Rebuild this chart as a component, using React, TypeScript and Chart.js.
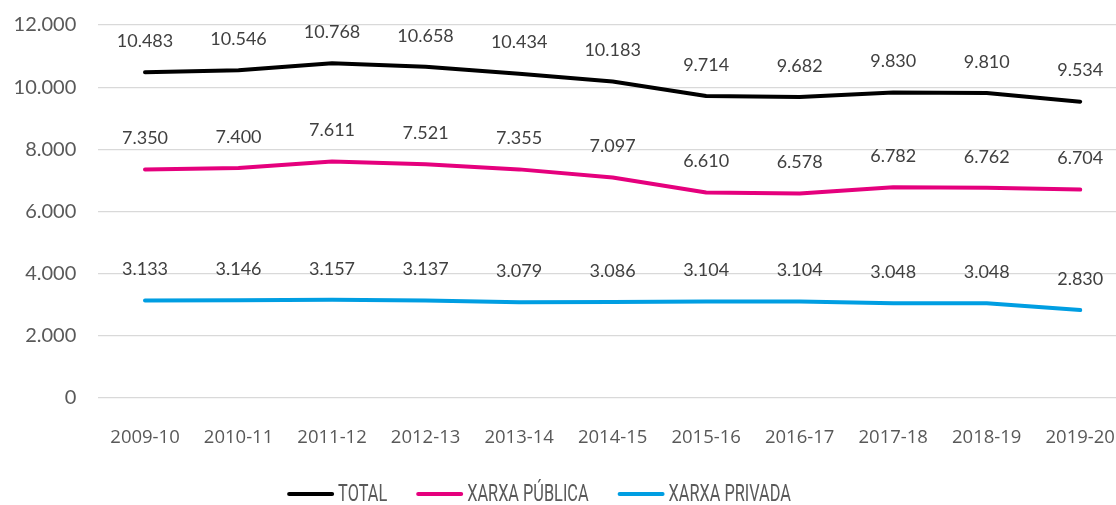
import React, { useEffect, useRef } from "react";
import { Chart, registerables } from "chart.js";

Chart.register(...registerables);

const categories = ["2009-10", "2010-11", "2011-12", "2012-13", "2013-14", "2014-15", "2015-16", "2016-17", "2017-18", "2018-19", "2019-20"];
const totalValues = [10483, 10546, 10768, 10658, 10434, 10183, 9714, 9682, 9830, 9810, 9534];
const publicValues = [7350, 7400, 7611, 7521, 7355, 7097, 6610, 6578, 6782, 6762, 6704];
const privateValues = [3133, 3146, 3157, 3137, 3079, 3086, 3104, 3104, 3048, 3048, 2830];
const seriesNames = ["TOTAL", "XARXA PÚBLICA", "XARXA PRIVADA"];
const seriesColors = ["#000000", "#E5007D", "#009EE2"];
const yMin = 0;
const yMax = 12000;
const yStep = 2000;

const fmt = (v: number) => Math.round(v).toString().replace(/\B(?=(\d{3})+(?!\d))/g, ".");

const dataLabelPlugin = {
  id: "dataLabels",
  afterDatasetsDraw(chart: any) {
    const ctx = chart.ctx;
    ctx.save();
    ctx.font = "18px Lato";
    ctx.fillStyle = "#404040";
    ctx.textAlign = "center";
    ctx.textBaseline = "middle";
    chart.data.datasets.forEach((ds: any, i: number) => {
      const meta = chart.getDatasetMeta(i);
      meta.data.forEach((pt: any, j: number) => {
        ctx.fillText(fmt(ds.data[j]), pt.x, pt.y - 31);
      });
    });
    ctx.restore();
  },
};

const legendPlugin = {
  id: "customLegend",
  afterDraw(chart: any) {
    const ctx = chart.ctx;
    const lineW = 47;
    const gapText = 4;
    const gapItem = 29;
    const sx = 0.68;
    const centerX = 539;
    const y = 494;
    ctx.save();
    ctx.font = "24px Roboto";
    ctx.textBaseline = "middle";
    ctx.textAlign = "left";
    const items = chart.data.datasets.map((ds: any) => ({
      label: ds.label,
      color: ds.borderColor,
      tw: ctx.measureText(ds.label).width * sx,
    }));
    let total = 0;
    items.forEach((it: any, i: number) => {
      total += lineW + gapText + it.tw + (i < items.length - 1 ? gapItem : 0);
    });
    let x = centerX - total / 2;
    items.forEach((it: any) => {
      ctx.strokeStyle = it.color;
      ctx.lineWidth = 4;
      ctx.lineCap = "round";
      ctx.beginPath();
      ctx.moveTo(x + 2, y);
      ctx.lineTo(x + lineW - 2, y);
      ctx.stroke();
      ctx.fillStyle = "#595959";
      ctx.save();
      ctx.translate(x + lineW + gapText, y + 1);
      ctx.scale(sx, 1);
      ctx.fillText(it.label, 0, 0);
      ctx.restore();
      x += lineW + gapText + it.tw + gapItem;
    });
    ctx.restore();
  },
};

export default function App() {
  const canvasRef = useRef<HTMLCanvasElement | null>(null);

  useEffect(() => {
    document.body.style.margin = "0";
    const canvas = canvasRef.current;
    if (!canvas) return;
    const seriesData = [totalValues, publicValues, privateValues];
    const chart = new Chart(canvas, {
      type: "line",
      data: {
        labels: categories,
        datasets: seriesData.map((d, i) => ({
          label: seriesNames[i],
          data: d,
          borderColor: seriesColors[i],
          backgroundColor: seriesColors[i],
          borderWidth: 4,
          pointRadius: 0,
          pointHoverRadius: 0,
          tension: 0,
          fill: false,
          borderCapStyle: "round" as const,
          borderJoinStyle: "round" as const,
          clip: false as any,
        })),
      },
      options: {
        animation: false,
        responsive: false,
        devicePixelRatio: 1,
        layout: { padding: { left: 10, right: 3, top: 25, bottom: 40 } },
        plugins: {
          legend: { display: false },
          tooltip: { enabled: false },
        },
        scales: {
          x: {
            offset: true,
            grid: { display: false, drawTicks: false },
            border: { display: false },
            ticks: {
              autoSkip: false,
              maxRotation: 0,
              minRotation: 0,
              padding: 0,
              color: "#595959",
              font: { family: "Open Sans", size: 18.5, lineHeight: "80px" },
            },
            afterFit: (scale: any) => {
              scale.height = 67;
            },
          },
          y: {
            min: yMin,
            max: yMax,
            border: { display: false },
            grid: { color: "#d9d9d9", lineWidth: 1.3, drawTicks: false },
            ticks: {
              stepSize: yStep,
              padding: 22,
              color: "#595959",
              font: { family: "Lato", size: 20, lineHeight: 0.1 },
              callback: (v: any) => fmt(Number(v)),
            },
            afterFit: (scale: any) => {
              scale.width = 88.25;
            },
          },
        },
      },
      plugins: [dataLabelPlugin, legendPlugin],
    });
    return () => chart.destroy();
  }, []);

  return (
    <div style={{ position: "absolute", left: 0, top: 0, width: 1116, height: 505, overflow: "hidden", background: "#fff" }}>
      <canvas ref={canvasRef} width={1130} height={505} style={{ display: "block" }} />
    </div>
  );
}
